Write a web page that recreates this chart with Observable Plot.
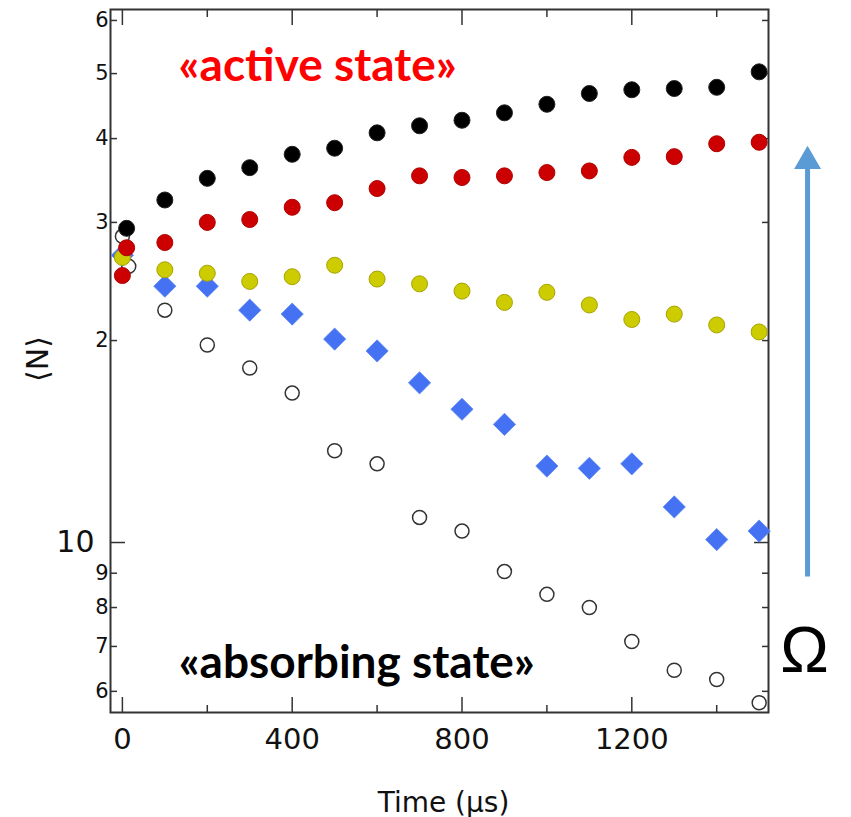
<!DOCTYPE html>
<html><head><meta charset="utf-8">
<script src="https://cdn.jsdelivr.net/npm/d3@7"></script>
<script src="https://cdn.jsdelivr.net/npm/@observablehq/plot@0.6"></script>
<style>body{margin:0;background:#fff} #chart svg{display:block}</style>
</head><body><div id="chart"></div>
<script>
// ---- data (time in µs, <N>) ----
const tBlack = [10,100,200,300,400,500,600,700,800,900,1000,1100,1200,1300,1400,1500];
const nBlack = [29.4,32.4,34.9,36.2,37.9,38.7,40.8,41.8,42.6,43.7,45.0,46.7,47.3,47.5,47.7,50.3];
const tRed = [0,10,100,200,300,400,500,600,700,800,900,1000,1100,1200,1300,1400,1500];
const nRed = [25.0,27.5,28.0,30.0,30.3,31.6,32.1,33.7,35.2,35.0,35.2,35.6,35.8,37.5,37.6,39.3,39.5];
const tYellow = [0,100,200,300,400,500,600,700,800,900,1000,1100,1200,1300,1400,1500];
const nYellow = [26.6,25.5,25.2,24.5,24.9,25.9,24.7,24.3,23.7,22.8,23.6,22.6,21.5,21.9,21.1,20.6];
const tBlue = [0,100,200,300,400,500,600,700,800,900,1000,1100,1200,1300,1400,1500];
const nBlue = [26.8,24.1,24.1,22.2,21.9,20.1,19.3,17.3,15.8,15.0,13.0,12.9,13.1,11.3,10.1,10.4];
const tOpen = [0,15,100,200,300,400,500,600,700,800,900,1000,1100,1200,1300,1400,1500];
const nOpen = [28.6,25.8,22.2,19.7,18.2,16.7,13.7,13.1,10.9,10.4,9.05,8.37,8.00,7.12,6.45,6.25,5.77];

// ---- ticks ----
const xMajorTicks = [0,400,800,1200];
const xMinorTicks = [200,600,1000,1400];
const yMinorTicks = [6,7,8,9,20,30,40,50,60];
const yMinorLabels = ["6","7","8","9","2","3","4","5","6"];
const yMajorTicks = [10];
const xDomain = [-28,1522];
const yDomain = [5.58,62.3];

// ---- annotations ----
const annoText = ["«active state»","«absorbing state»"];
const annoColor = ["#ff0000","#000000"];
const annoX = [460,552];
const annoY = [51.2,6.60];
const omegaText = ["Ω"];
const omegaX = [1607];
const omegaY = [6.88];
const arrowX = [1614];
const arrowFrom = [8.9];
const arrowTo = [36.1];
const arrowHead = [37.0];

const SANS = "'Liberation Sans', Arial, sans-serif";
const WIDE = "'DejaVu Sans', 'Liberation Sans', sans-serif";
const rows = (t, n) => t.map((d, i) => ({t: d, n: n[i]}));
const labelOf = d => yMinorLabels[yMinorTicks.indexOf(d)];
const tickStyle = {stroke: "#333", strokeWidth: 1.5, label: null, fontFamily: WIDE, fill: "#111"};

const chart = Plot.plot({
  width: 851, height: 817,
  marginLeft: 110, marginRight: 83, marginTop: 9, marginBottom: 105,
  style: {fontFamily: SANS, color: "#111", background: "#fff"},
  x: {domain: xDomain, label: null},
  y: {type: "log", domain: yDomain, label: null},
  marks: [
    Plot.axisX(xMajorTicks, {...tickStyle, anchor: "bottom", tickSize: -15, tickPadding: 31, fontSize: 29, tickFormat: d => String(d)}),
    Plot.axisX(xMinorTicks, {...tickStyle, anchor: "bottom", tickSize: -7, tickFormat: () => ""}),
    Plot.axisX(xMajorTicks, {...tickStyle, anchor: "top", tickSize: -15, tickFormat: () => ""}),
    Plot.axisX(xMinorTicks, {...tickStyle, anchor: "top", tickSize: -7, tickFormat: () => ""}),
    Plot.axisY(yMinorTicks, {...tickStyle, anchor: "left", tickSize: -7, tickPadding: 9, fontSize: 21, tickFormat: labelOf}),
    Plot.axisY(yMajorTicks, {...tickStyle, anchor: "left", tickSize: -15, tickPadding: 31, fontSize: 30, tickFormat: d => String(d)}),
    Plot.axisY(yMinorTicks, {...tickStyle, anchor: "right", tickSize: -7, tickFormat: () => ""}),
    Plot.axisY(yMajorTicks, {...tickStyle, anchor: "right", tickSize: -15, tickFormat: () => ""}),
    Plot.frame({stroke: "#333", strokeWidth: 2}),
    Plot.text(["Time (µs)"], {frameAnchor: "bottom", lineAnchor: "bottom", dy: 99, dx: 4, fontSize: 28, fill: "#111", text: d => d, fontFamily: WIDE}),
    Plot.text(["⟨N⟩"], {frameAnchor: "left", textAnchor: "middle", rotate: -90, dx: -72, dy: -2, fontSize: 30, fill: "#111", text: d => d, fontFamily: WIDE}),
    Plot.dot(rows(tOpen, nOpen), {x: "t", y: "n", r: 7, fill: "#fff", stroke: "#333", strokeWidth: 1.5}),
    Plot.dot(rows(tBlue, nBlue), {x: "t", y: "n", r: 10, symbol: "diamond2", fill: "#4472f2", stroke: "#5a86f5", strokeWidth: 0.8}),
    Plot.dot(rows(tYellow, nYellow), {x: "t", y: "n", r: 8, fill: "#cccc00", stroke: "#a6a300", strokeWidth: 1}),
    Plot.dot(rows(tRed, nRed), {x: "t", y: "n", r: 8, fill: "#cc0000", stroke: "#b00000", strokeWidth: 1}),
    Plot.dot(rows(tBlack, nBlack), {x: "t", y: "n", r: 8, fill: "#000", stroke: "#222", strokeWidth: 1}),
    Plot.text(annoText, {x: (d, i) => annoX[i], y: (d, i) => annoY[i], text: d => d, fill: (d, i) => annoColor[i],
      fontFamily: "Lato, 'Open Sans', sans-serif", fontWeight: "bold", fontSize: 46}),
    Plot.link(arrowX, {x1: d => d, x2: d => d, y1: (d, i) => arrowFrom[i], y2: (d, i) => arrowTo[i], stroke: "#5b9bd5", strokeWidth: 5}),
    Plot.dot(arrowX, {x: d => d, y: (d, i) => arrowHead[i], symbol: "triangle", r: 10, fill: "#5b9bd5"}),
    Plot.text(omegaText, {x: (d, i) => omegaX[i], y: (d, i) => omegaY[i], text: d => d, fontSize: 65, fill: "#000", fontFamily: SANS})
  ]
});
document.getElementById("chart").append(chart);
</script>
</body></html>
